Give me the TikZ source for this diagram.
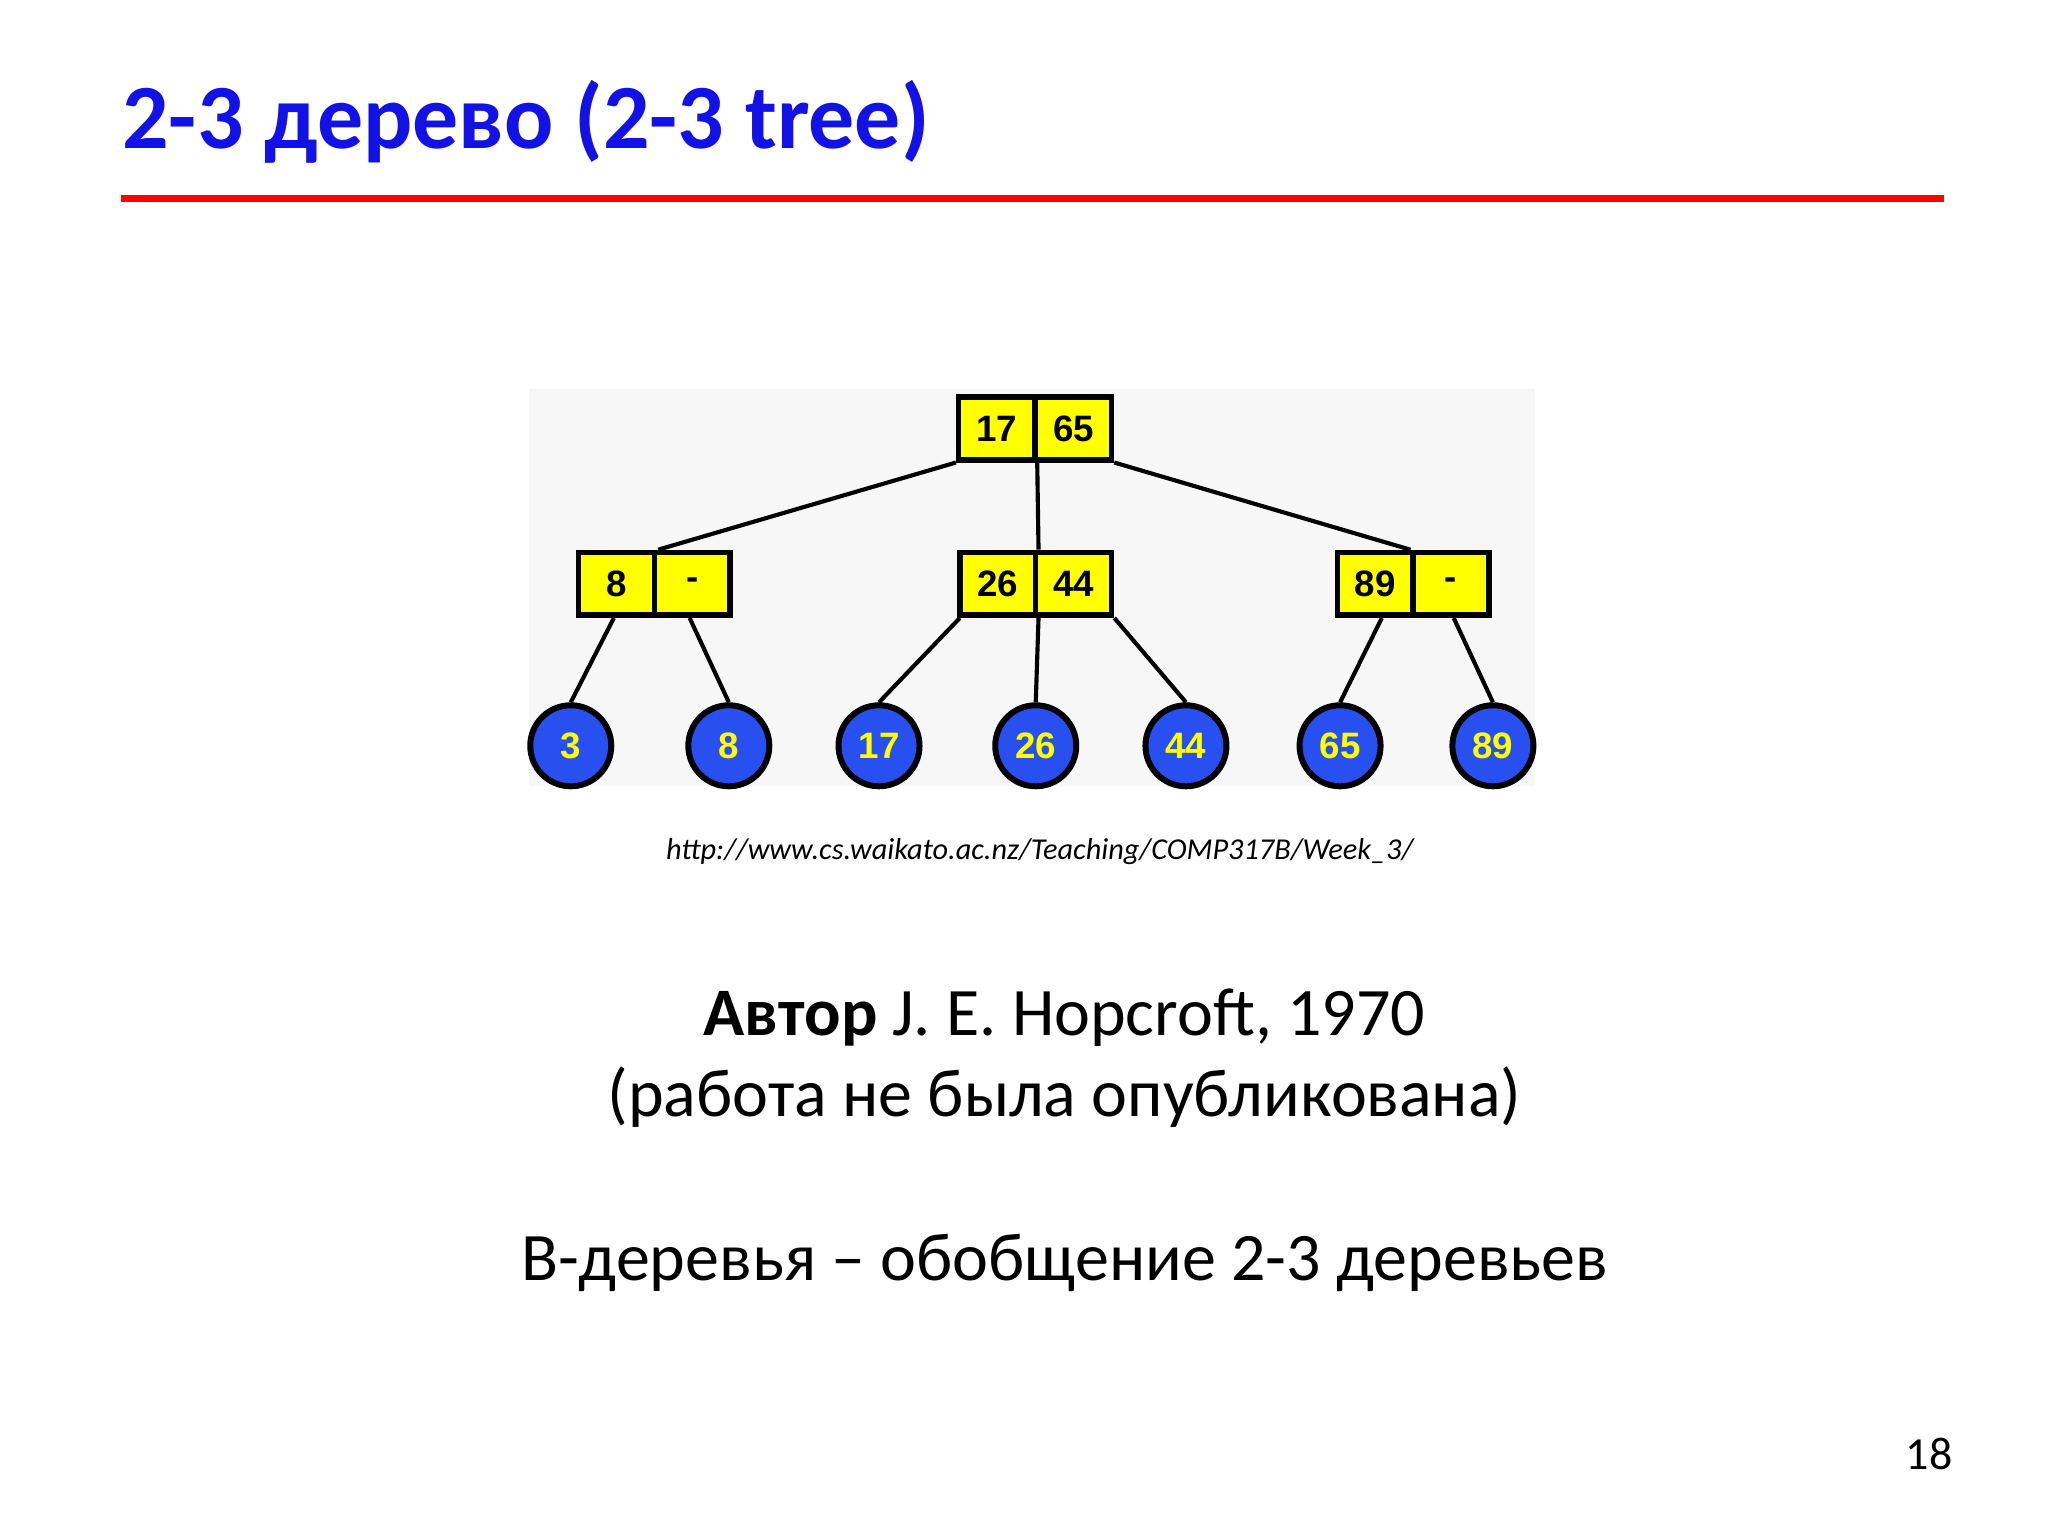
\documentclass[tikz,border=0pt]{standalone}
\usepackage{fontspec}
\setmainfont{Carlito}
\newfontfamily\treefont{Liberation Sans}
\definecolor{ttl}{RGB}{18,18,230}
\definecolor{ylw}{RGB}{255,255,0}
\definecolor{blu}{RGB}{40,80,240}
\begin{document}
\begin{tikzpicture}[x=0.01cm,y=-0.01cm,
  cell/.style={draw,line width=1.2pt,fill=ylw,minimum width=0.58cm,minimum height=0.48cm,inner sep=0pt,font=\treefont\bfseries\fontsize{8}{8}\selectfont},
  leaf/.style={circle,draw,line width=1.3pt,fill=blu,minimum size=0.62cm,inner sep=0pt,text=ylw,font=\treefont\bfseries\fontsize{8}{8}\selectfont},
  edge/.style={line width=0.9pt}]
\useasboundingbox (0,0) rectangle (1568,1176);
\fill[white] (0,0) rectangle (1568,1176);
\fill[black!3] (405,298) rectangle (1175,602);
\node[anchor=west,inner sep=0pt,text=ttl,font=\bfseries\fontsize{20}{24}\selectfont] (title) at (93,93) {2-3 дерево (2-3 tree)};
\draw[red,line width=1.6pt] (93,152) -- (1488,152);
% root
\node[cell] (r1) at (763,328) {17};
\node[cell] (r2) at (822,328) {65};
% level 2
\node[cell] (a1) at (472,447) {8};
\node[cell] (a2) at (530,447) {-};
\node[cell] (b1) at (764,447) {26};
\node[cell] (b2) at (822,447) {44};
\node[cell] (c1) at (1053,447) {89};
\node[cell] (c2) at (1111,447) {-};
% leaves
\foreach \n/\x/\t in {l1/437/3,l2/558/8,l3/673/17,l4/793/26,l5/908/44,l6/1026/65,l7/1143/89}
  \node[leaf] (\n) at (\x,571) {\t};
\draw[edge] (r1.south west) -- ([xshift=0.05cm]a2.north west);
\draw[edge] (r1.south east) -- (b1.north east);
\draw[edge] (r2.south east) -- (c2.north west);
\draw[edge] ([xshift=-0.02cm]a1.south) -- (l1.north);
\draw[edge] ([xshift=-0.02cm]a2.south) -- (l2.north);
\draw[edge] ([xshift=0.02cm]b1.south west) -- (l3.north);
\draw[edge] (b1.south east) -- (l4.north);
\draw[edge] (b2.south east) -- (l5.north);
\draw[edge] ([xshift=0.05cm]c1.south) -- (l6.north);
\draw[edge] ([xshift=0.02cm]c2.south) -- (l7.north);
\node[font=\itshape\fontsize{6.6}{7}\selectfont] (url) at (796,652) {http://www.cs.waikato.ac.nz/Teaching/COMP317B/Week\_3/};
\node[font=\fontsize{14.8}{17.6}\selectfont,align=center] (auth) at (815,810) {\textbf{Автор} J. E. Hopcroft, 1970\\(работа не была опубликована)};
\node[font=\fontsize{14.8}{17}\selectfont] (btree) at (815,967) {B-деревья – обобщение 2-3 деревьев};
\node[font=\fontsize{10}{11}\selectfont] (pg) at (1477,1113) {18};
\end{tikzpicture}
\end{document}
